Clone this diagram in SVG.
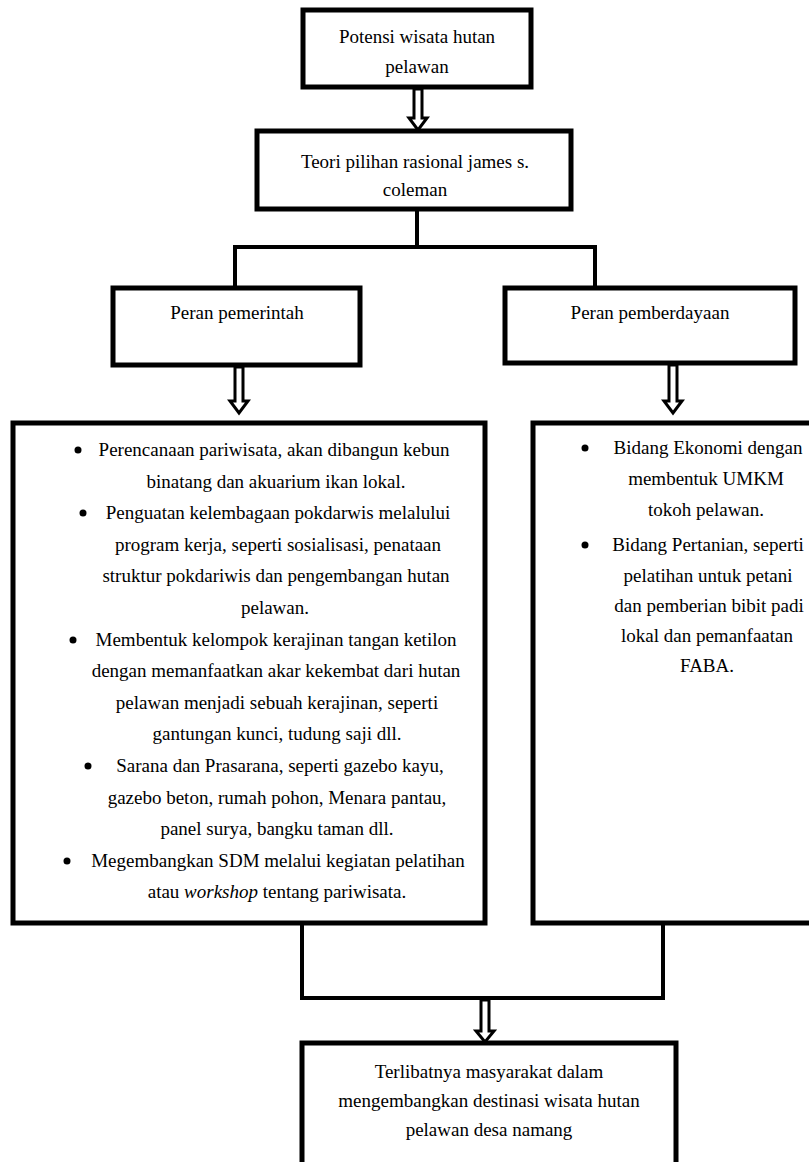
<svg xmlns="http://www.w3.org/2000/svg" width="809" height="1162" viewBox="0 0 809 1162">
<defs>
<style>
.box{fill:#fff;stroke:#000;stroke-width:5}
.ln{fill:none;stroke:#000;stroke-width:4}
.arr{fill:#fff;stroke:#000;stroke-width:3;stroke-linejoin:miter}
text{font-family:"Liberation Serif","Times New Roman",serif;font-size:19px;fill:#000}
.c{text-anchor:middle}
.dot{fill:#000}
</style>
</defs>
<rect width="809" height="1162" fill="#fff"/>
<g id="connectors">
<polygon class="arr" points="414,89 414,118 409,118 418,130 427,118 422,118 422,89"/>
<polyline class="ln" points="417,210 417,247"/>
<polyline class="ln" points="235,288 235,247 595,247 595,288"/>
<polygon class="arr" points="235,367 235,401 230,401 239,413 248,401 243,401 243,367"/>
<polygon class="arr" points="669,365 669,401 664,401 673,413 682,401 677,401 677,365"/>
<polyline class="ln" points="302,925 302,998 663,998 663,925"/>
<polygon class="arr" points="481,1000 481,1031 476,1031 485,1042 494,1031 489,1031 489,1000"/>
</g>
<g id="n1">
<rect class="box" x="303" y="10" width="228" height="77"/>
<text class="c" x="417" y="43">Potensi  wisata  hutan</text>
<text class="c" x="417" y="73">pelawan</text>
</g>
<g id="n2">
<rect class="box" x="257" y="131" width="314" height="78"/>
<text class="c" x="415" y="168">Teori  pilihan  rasional  james  s.</text>
<text class="c" x="415" y="196">coleman</text>
</g>
<g id="n3">
<rect class="box" x="113" y="288" width="247" height="77"/>
<text class="c" x="237" y="319">Peran pemerintah</text>
</g>
<g id="n4">
<rect class="box" x="505" y="288" width="290" height="75"/>
<text class="c" x="650" y="319">Peran pemberdayaan</text>
</g>
<g id="n5">
<rect class="box" x="13" y="423" width="472" height="500"/>
<circle class="dot" cx="78" cy="450" r="3.5"/>
<circle class="dot" cx="83" cy="513" r="3.5"/>
<circle class="dot" cx="73" cy="640" r="3.5"/>
<circle class="dot" cx="88" cy="766" r="3.5"/>
<circle class="dot" cx="67" cy="861" r="3.5"/>
<text class="c" x="274" y="456">Perencanaan  pariwisata,  akan dibangun  kebun</text>
<text class="c" x="276" y="488">binatang  dan akuarium  ikan lokal.</text>
<text class="c" x="278" y="519">Penguatan  kelembagaan  pokdarwis  melalului</text>
<text class="c" x="278" y="551">program  kerja, seperti sosialisasi,  penataan</text>
<text class="c" x="276" y="582">struktur  pokdariwis  dan pengembangan  hutan</text>
<text class="c" x="275" y="614">pelawan.</text>
<text class="c" x="276" y="646">Membentuk  kelompok  kerajinan  tangan  ketilon</text>
<text class="c" x="276" y="677">dengan  memanfaatkan  akar kekembat dari hutan</text>
<text class="c" x="277" y="709">pelawan menjadi  sebuah kerajinan,  seperti</text>
<text class="c" x="277" y="740">gantungan  kunci, tudung  saji dll.</text>
<text class="c" x="280" y="772">Sarana  dan Prasarana,  seperti gazebo kayu,</text>
<text class="c" x="277" y="804">gazebo beton,  rumah  pohon,  Menara pantau,</text>
<text class="c" x="277" y="835">panel  surya,  bangku  taman  dll.</text>
<text class="c" x="278" y="867">Megembangkan  SDM melalui  kegiatan pelatihan</text>
<text class="c" x="277" y="898">atau <tspan font-style="italic">workshop</tspan> tentang pariwisata.</text>
</g>
<g id="n6">
<rect class="box" x="533" y="423" width="290" height="500"/>
<circle class="dot" cx="585" cy="448" r="3.5"/>
<circle class="dot" cx="585" cy="545" r="3.5"/>
<text class="c" x="708" y="454">Bidang  Ekonomi  dengan</text>
<text class="c" x="706" y="485">membentuk  UMKM</text>
<text class="c" x="706" y="516">tokoh pelawan.</text>
<text class="c" x="708" y="551">Bidang  Pertanian,  seperti</text>
<text class="c" x="708" y="582">pelatihan  untuk  petani</text>
<text class="c" x="709" y="612">dan pemberian  bibit padi</text>
<text class="c" x="707" y="642">lokal  dan pemanfaatan</text>
<text class="c" x="707" y="672">FABA.</text>
</g>
<g id="n7">
<rect class="box" x="302" y="1043" width="374" height="130"/>
<text class="c" x="489" y="1078">Terlibatnya  masyarakat  dalam</text>
<text class="c" x="489" y="1107">mengembangkan  destinasi  wisata hutan</text>
<text class="c" x="489" y="1136">pelawan  desa namang</text>
</g>
</svg>
